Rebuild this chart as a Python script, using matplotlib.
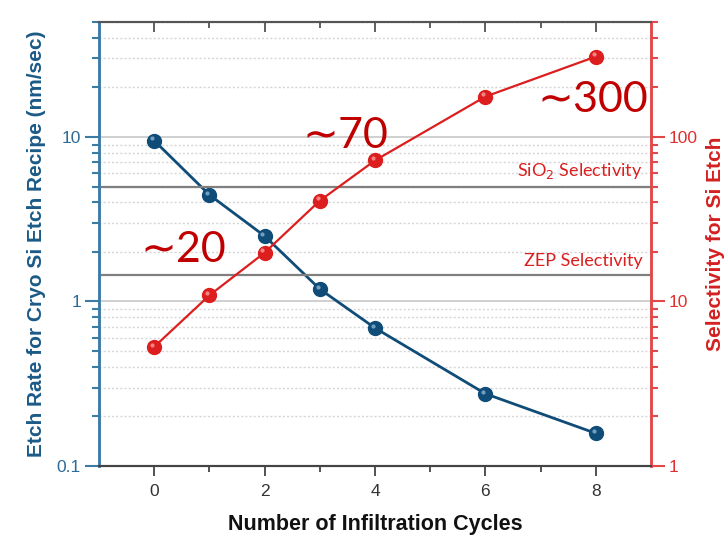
import matplotlib
matplotlib.use("Agg")
import matplotlib.pyplot as plt
import matplotlib.transforms as mtransforms
from matplotlib.ticker import LogLocator, NullFormatter, FixedLocator

# data
cycles = [0, 1, 2, 3, 4, 6, 8]
etch_rate = [9.5, 4.45, 2.5, 1.19, 0.69, 0.275, 0.158]
selectivity = [5.3, 10.9, 19.8, 41, 72, 176, 308]
sio2_sel = 50
zep_sel = 14.5
notes = ["∼20", "∼70", "∼300"]
note_x = [-0.25, 2.68, 6.95]
note_y = [17.5, 86, 142]

blue = "#0f4c77"
blue_ax = "#3b7ba6"
red = "#dc1e1e"
red_ax = "#e34848"
dark_red = "#c00000"

plt.rcParams['font.family'] = ['Liberation Sans', 'DejaVu Sans']

fig = plt.figure(figsize=(7.28, 5.37), dpi=100)
ax = fig.add_axes([99/728, 1-466/537, 552/728, 444/537])
ax2 = ax.twinx()

ax.set_yscale('log')
ax2.set_yscale('log')
ax.set_xlim(-1, 9)
ax.set_ylim(0.1, 50)
ax2.set_ylim(1, 500)

# grid (same positions for both scales)
ax.yaxis.set_major_locator(LogLocator(base=10, numticks=10))
ax.yaxis.set_minor_locator(LogLocator(base=10, subs=range(2, 10), numticks=20))
ax.yaxis.set_minor_formatter(NullFormatter())
ax.grid(True, which='major', axis='y', color='#c8c8c8', lw=1.2)
ax.grid(True, which='minor', axis='y', color='#d6d6d6', lw=1, ls=(0, (1.5, 1.5)))
ax.set_yticks([0.1, 1, 10])
ax.set_yticklabels(['0.1', '1', '10'])

ax2.yaxis.set_minor_locator(LogLocator(base=10, subs=range(2, 10), numticks=20))
ax2.yaxis.set_minor_formatter(NullFormatter())
ax2.set_yticks([1, 10, 100])
ax2.set_yticklabels(['1', '10', '100'])

# selectivity reference lines
ax2.axhline(sio2_sel, color='#7f7f7f', lw=1.6, zorder=1)
ax2.axhline(zep_sel, color='#7f7f7f', lw=1.6, zorder=1)
ax2.text(8.85, sio2_sel * 1.08, "SiO$_2$ Selectivity", color=red, fontsize=13,
         family=['Lato', 'DejaVu Sans'], ha='right', va='bottom')
ax2.text(8.85, zep_sel * 1.08, "ZEP Selectivity", color=red, fontsize=13,
         family=['Lato', 'DejaVu Sans'], ha='right', va='bottom')


def sphere(a, x, y, col, hi, lw):
    a.plot(x, y, '-', color=col, lw=lw, zorder=3)
    a.plot(x, y, 'o', color=col, ms=10, mec=col, zorder=4)
    off = mtransforms.offset_copy(a.transData, fig=fig, x=-1.6, y=1.6, units='points')
    a.plot(x, y, 'o', color=hi, ms=3, mec='none', alpha=0.7, transform=off, zorder=5)


sphere(ax, cycles, etch_rate, blue, '#9cc3e0', 2)
sphere(ax2, cycles, selectivity, red, '#ffb0b0', 1.6)

for t, x, y in zip(notes, note_x, note_y):
    ax2.text(x, y, t, color=dark_red, fontsize=31, family=['Lato', 'DejaVu Sans'],
             ha='left', va='baseline')

# x axis: outward ticks at the bottom, inward at the top
ax.set_xticks([0, 2, 4, 6, 8])
ax.xaxis.set_minor_locator(FixedLocator([1, 3, 5, 7]))
ax.tick_params(axis='x', which='major', direction='out', length=7, width=1.2,
               labelsize=12.5, colors='#333333', pad=6)
ax.tick_params(axis='x', which='minor', direction='out', length=4, width=1.2, colors='#333333')
ax2.xaxis.set_visible(True)
ax2.tick_params(axis='x', which='both', bottom=False, top=True, labelbottom=False,
                labeltop=False, direction='in', width=1.2, colors='#444444')
ax2.tick_params(axis='x', which='major', length=7)
ax2.tick_params(axis='x', which='minor', length=4)

ax.tick_params(axis='y', which='major', direction='out', length=10, width=1.5,
               labelsize=12.5, color=blue_ax, labelcolor='#2d6a96', pad=3)
ax.tick_params(axis='y', which='minor', direction='out', length=5, width=1.5, color=blue_ax)
ax2.tick_params(axis='y', which='major', direction='out', length=10, width=1.5,
                labelsize=12.5, color=red_ax, labelcolor='#e03030', pad=3)
ax2.tick_params(axis='y', which='minor', direction='out', length=5, width=1.5, color=red_ax)

for a in (ax, ax2):
    a.spines['left'].set_color(blue_ax)
    a.spines['left'].set_linewidth(1.8)
    a.spines['right'].set_color(red_ax)
    a.spines['right'].set_linewidth(1.8)
    a.spines['bottom'].set_color('#444444')
    a.spines['bottom'].set_linewidth(1.5)
    a.spines['top'].set_color('#555555')
    a.spines['top'].set_linewidth(1.5)

ax.set_xlabel("Number of Infiltration Cycles", fontsize=15.5, fontweight='bold', color='#111111')
ax.xaxis.set_label_coords(0.5, -0.108)
ax.set_ylabel("Etch Rate for Cryo Si Etch Recipe (nm/sec)", fontsize=15,
              fontweight='bold', color='#1b5a87')
ax.yaxis.set_label_coords(-0.096, 0.5)
ax2.set_ylabel("Selectivity for Si Etch", fontsize=15, fontweight='bold', color='#d42020')
ax2.yaxis.set_label_coords(1.10, 0.5)

fig.savefig("out.png", dpi=100)
